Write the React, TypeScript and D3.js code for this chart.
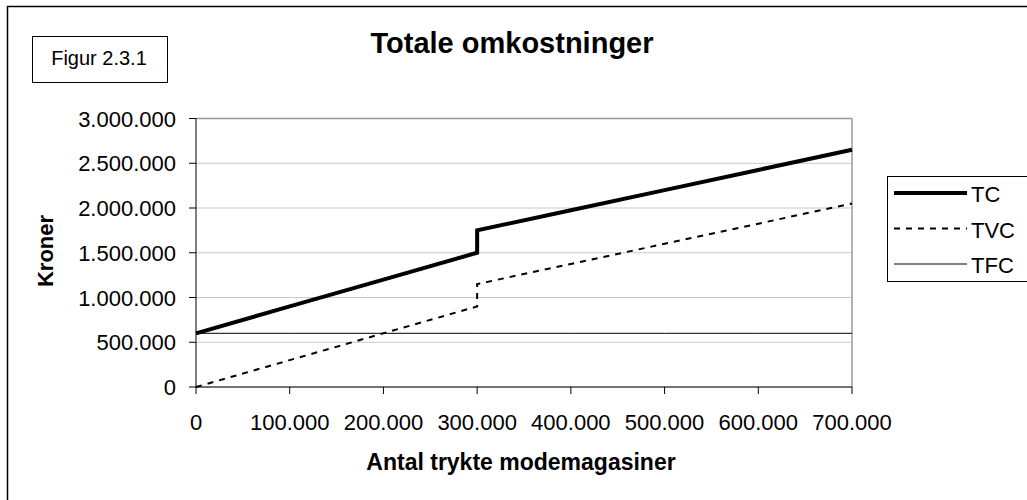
import React from 'react';
import { scaleLinear, line } from 'd3';

const xValues = [0, 100000, 200000, 300000, 300000, 400000, 500000, 600000, 700000];
const tcValues = [600000, 900000, 1200000, 1500000, 1750000, 1975000, 2200000, 2425000, 2650000];
const tvcValues = [0, 300000, 600000, 900000, 1150000, 1375000, 1600000, 1825000, 2050000];
const tfcValues = [600000, 600000, 600000, 600000, 600000, 600000, 600000, 600000, 600000];
const yTicks = [0, 500000, 1000000, 1500000, 2000000, 2500000, 3000000];
const xTicks = [0, 100000, 200000, 300000, 400000, 500000, 600000, 700000];
const seriesNames = ['TC', 'TVC', 'TFC'];

const fmt = (v: number) => v.toString().replace(/\B(?=(\d{3})+(?!\d))/g, '.');

const App = () => {
    const W = 1027, H = 500;
    const plot = { left: 196, right: 852, top: 118.5, bottom: 387 };
    const x = scaleLinear().domain([0, 700000]).range([plot.left, plot.right]);
    const y = scaleLinear().domain([0, 3000000]).range([plot.bottom, plot.top]);
    const font = '"Liberation Sans", Arial, sans-serif';

    const mk = (vals: number[]) => line<number>().x((d, i) => x(xValues[i])).y(d => y(d))(vals) || '';

    const styles = [
        { stroke: '#000', width: 4, dash: undefined },
        { stroke: '#000', width: 2, dash: '6,6' },
        { stroke: '#000', width: 1, dash: undefined },
    ];
    const series = [tcValues, tvcValues, tfcValues];
    const legendY = [193, 228.5, 264];

    return (
        <div style={{ position: 'absolute', left: 0, top: 0 }}>
            <svg width={W} height={H} style={{ display: 'block', fontFamily: font }}>
                <rect x={0} y={0} width={W} height={H} fill="#fff" />
                <rect x={7.5} y={6.5} width={W + 10} height={H + 10} fill="none" stroke="#000" strokeWidth={1.5} />

                <rect x={32.5} y={36.5} width={135} height={46} fill="#fff" stroke="#000" strokeWidth={1} />
                <text x={99} y={65} textAnchor="middle" fontSize={20}>Figur 2.3.1</text>

                <text x={512} y={53} textAnchor="middle" fontSize={29} fontWeight="bold">Totale omkostninger</text>

                {/* gridlines */}
                {yTicks.map((t, i) => (
                    <line key={i} x1={plot.left} x2={plot.right} y1={y(t)} y2={y(t)} stroke="#c8c8c8" strokeWidth={1} />
                ))}
                <line x1={plot.left} x2={plot.right} y1={plot.top} y2={plot.top} stroke="#999" strokeWidth={1.5} />
                <line x1={plot.right} x2={plot.right} y1={plot.top} y2={plot.bottom} stroke="#999" strokeWidth={1.5} />

                {/* series */}
                {series.map((s, i) => (
                    <path key={i} d={mk(s)} fill="none" stroke={styles[i].stroke} strokeWidth={styles[i].width}
                        strokeDasharray={styles[i].dash} strokeLinejoin="miter" />
                ))}

                {/* axes */}
                <line x1={plot.left} x2={plot.left} y1={plot.top} y2={plot.bottom} stroke="#000" strokeWidth={1} />
                <line x1={plot.left} x2={plot.right} y1={plot.bottom} y2={plot.bottom} stroke="#000" strokeWidth={1} />
                {yTicks.map((t, i) => (
                    <g key={i}>
                        <line x1={plot.left - 7} x2={plot.left} y1={y(t)} y2={y(t)} stroke="#000" strokeWidth={1} />
                        <text x={176} y={y(t) + 8} textAnchor="end" fontSize={22}>{fmt(t)}</text>
                    </g>
                ))}
                {xTicks.map((t, i) => (
                    <g key={i}>
                        <line x1={x(t)} x2={x(t)} y1={plot.bottom} y2={plot.bottom + 7} stroke="#000" strokeWidth={1} />
                        <text x={x(t)} y={430} textAnchor="middle" fontSize={22}>{fmt(t)}</text>
                    </g>
                ))}

                <text x={521} y={470} textAnchor="middle" fontSize={23} fontWeight="bold">Antal trykte modemagasiner</text>
                <text transform="translate(53,251) rotate(-90)" textAnchor="middle" fontSize={22} fontWeight="bold">Kroner</text>

                {/* legend */}
                <rect x={887.5} y={176.5} width={160} height={105} fill="#fff" stroke="#000" strokeWidth={1} />
                {seriesNames.map((n, i) => {
                    const ly = legendY[i];
                    return (
                        <g key={n}>
                            <line x1={894} x2={967} y1={ly} y2={ly} stroke={styles[i].stroke} strokeWidth={styles[i].width}
                                strokeDasharray={styles[i].dash} />
                            <text x={971} y={ly + 9} fontSize={22}>{n}</text>
                        </g>
                    );
                })}
            </svg>
        </div>
    );
};

export default App;
